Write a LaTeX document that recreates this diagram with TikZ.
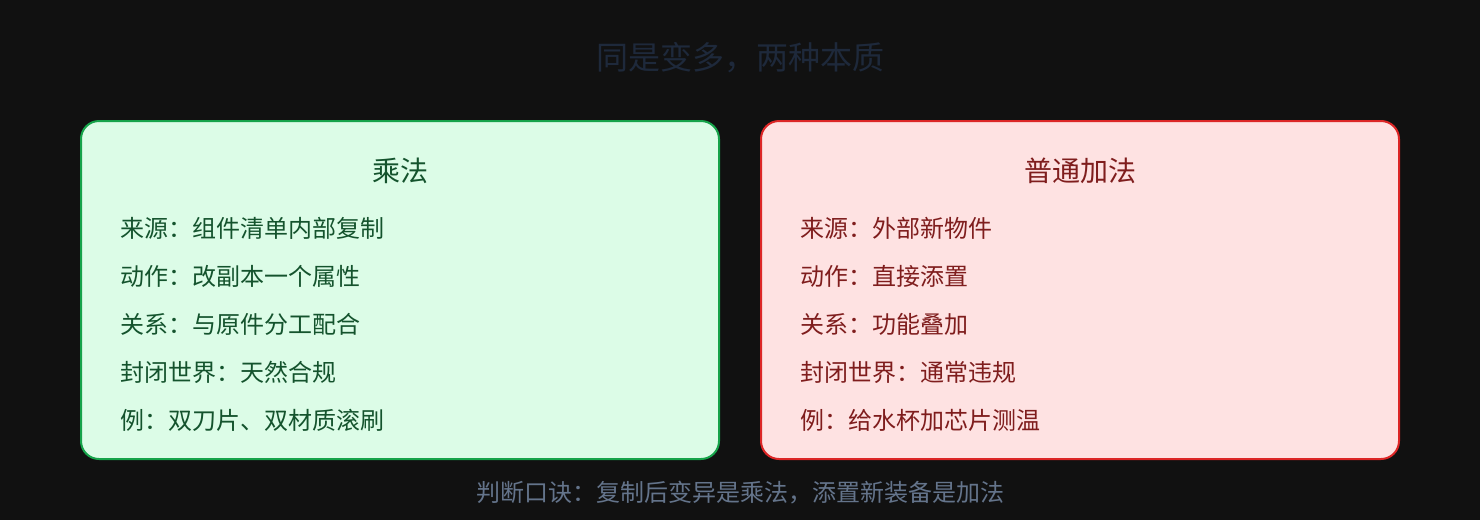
\documentclass[tikz,border=0pt]{standalone}
\usepackage{fontspec}
\setmainfont{Noto Sans CJK SC}
\definecolor{bg}{HTML}{111111}
\definecolor{ttl}{HTML}{1E293B}
\definecolor{gfill}{HTML}{DCFCE7}
\definecolor{gdraw}{HTML}{16A34A}
\definecolor{gtext}{HTML}{14532D}
\definecolor{rfill}{HTML}{FEE2E2}
\definecolor{rdraw}{HTML}{DC2626}
\definecolor{rtext}{HTML}{7F1D1D}
\definecolor{foot}{HTML}{64748B}
\tikzset{
  panel/.style={line width=2pt, rounded corners=18pt},
  txt/.style={inner sep=0pt, anchor=base west, font=\fontsize{24}{28}\selectfont},
  head/.style={inner sep=0pt, anchor=base, font=\fontsize{28}{32}\selectfont},
}
\begin{document}
\begin{tikzpicture}[x=1pt,y=-1pt]
\fill[bg] (0,0) rectangle (1480,520);
\useasboundingbox (0,0) rectangle (1480,520);
\node[inner sep=0pt, anchor=base, text=ttl, font=\fontsize{32}{36}\selectfont] (title) at (740,69.5) {同是变多，两种本质};
% left panel
\draw[panel, draw=gdraw, fill=gfill] (81,121) rectangle (719,459);
\node[head, text=gtext] (lh) at (400,181) {乘法};
\node[txt, text=gtext] (l1) at (120,237) {来源：组件清单内部复制};
\node[txt, text=gtext] (l2) at (120,285) {动作：改副本一个属性};
\node[txt, text=gtext] (l3) at (120,333) {关系：与原件分工配合};
\node[txt, text=gtext] (l4) at (120,381) {封闭世界：天然合规};
\node[txt, text=gtext] (l5) at (120,429) {例：双刀片、双材质滚刷};
% right panel
\draw[panel, draw=rdraw, fill=rfill] (761,121) rectangle (1399,459);
\node[head, text=rtext] (rh) at (1080,181) {普通加法};
\node[txt, text=rtext] (r1) at (800,237) {来源：外部新物件};
\node[txt, text=rtext] (r2) at (800,285) {动作：直接添置};
\node[txt, text=rtext] (r3) at (800,333) {关系：功能叠加};
\node[txt, text=rtext] (r4) at (800,381) {封闭世界：通常违规};
\node[txt, text=rtext] (r5) at (800,429) {例：给水杯加芯片测温};
\node[inner sep=0pt, anchor=base, text=foot, font=\fontsize{24}{28}\selectfont] (footer) at (740,501) {判断口诀：复制后变异是乘法，添置新装备是加法};
\end{tikzpicture}
\end{document}
